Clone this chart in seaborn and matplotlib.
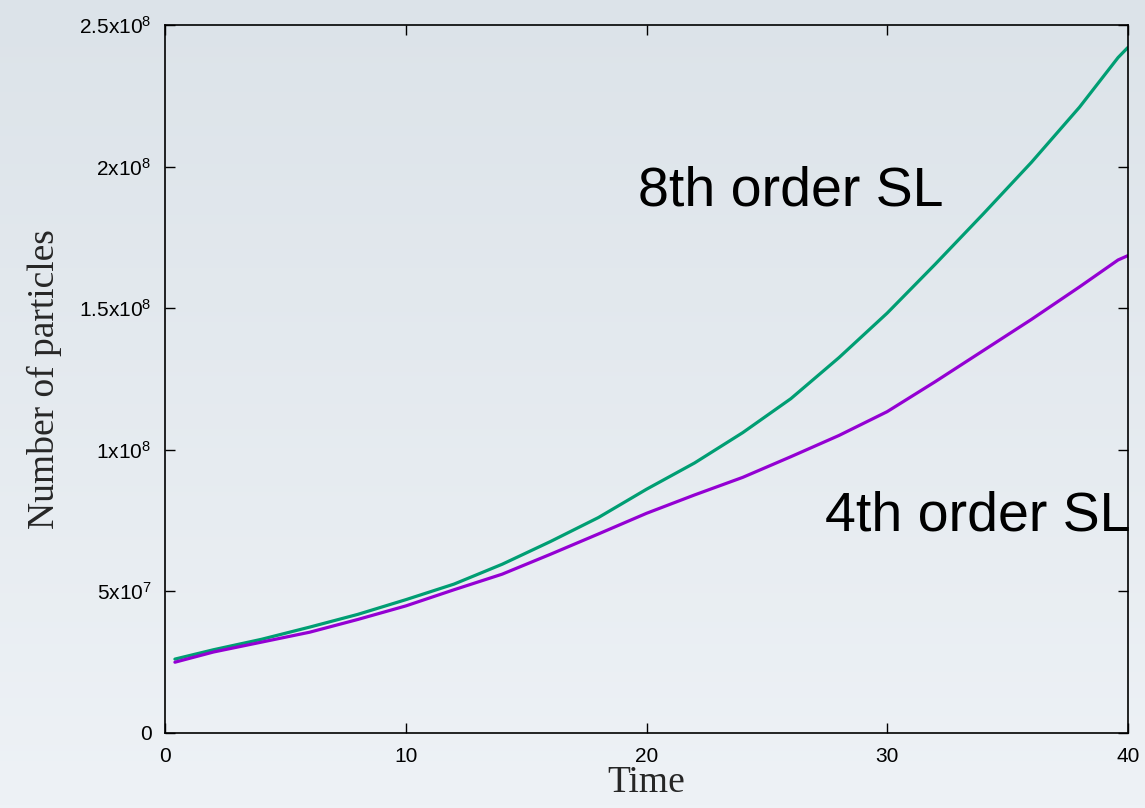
import numpy as np
import pandas as pd
import matplotlib
matplotlib.use("Agg")
import matplotlib.pyplot as plt
from matplotlib.colors import LinearSegmentedColormap
import seaborn as sns

# ---- data ----
time = [0.4, 2, 4, 6, 8, 10, 12, 14, 16, 18, 20, 22, 24, 26, 28, 30, 32, 34, 36, 38, 39.6, 40]
particles_8th = [2.60e7, 2.93e7, 3.30e7, 3.73e7, 4.18e7, 4.70e7, 5.25e7, 5.95e7, 6.75e7, 7.60e7,
                 8.60e7, 9.53e7, 10.60e7, 11.80e7, 13.25e7, 14.82e7, 16.55e7, 18.33e7, 20.15e7,
                 22.10e7, 23.85e7, 24.20e7]
particles_4th = [2.49e7, 2.85e7, 3.20e7, 3.55e7, 4.00e7, 4.48e7, 5.05e7, 5.60e7, 6.30e7, 7.02e7,
                 7.75e7, 8.40e7, 9.02e7, 9.75e7, 10.50e7, 11.34e7, 12.40e7, 13.50e7, 14.60e7,
                 15.75e7, 16.70e7, 16.85e7]
series_names = ["8th order SL", "4th order SL"]
x_ticks = [0, 10, 20, 30, 40]
y_ticks = [0, 5e7, 1e8, 1.5e8, 2e8, 2.5e8]
y_tick_labels = ["0", "5x10$^{7}$", "1x10$^{8}$", "1.5x10$^{8}$", "2x10$^{8}$", "2.5x10$^{8}$"]

df = pd.DataFrame({
    "Time": time * 2,
    "Particles": particles_8th + particles_4th,
    "Series": [series_names[0]] * len(time) + [series_names[1]] * len(time),
})

sns.set_theme(style="ticks")
plt.rcParams["font.family"] = ["Liberation Sans", "DejaVu Sans"]
plt.rcParams["mathtext.fontset"] = "custom"
plt.rcParams["mathtext.rm"] = "Liberation Sans"
plt.rcParams["mathtext.it"] = "Liberation Sans:italic"
plt.rcParams["mathtext.bf"] = "Liberation Sans:bold"

fig = plt.figure(figsize=(11.45, 8.08), dpi=100)

# soft background gradient
bg = fig.add_axes([0, 0, 1, 1], zorder=-10)
grad = np.linspace(0, 1, 256).reshape(-1, 1)
cmap = LinearSegmentedColormap.from_list("bg", ["#dce3e9", "#eef2f6"])
bg.imshow(grad, aspect="auto", cmap=cmap, extent=[0, 1, 0, 1], origin="upper")
bg.axis("off")

ax = fig.add_axes([165.3 / 1145, 1 - 732.7 / 808, (1127.7 - 165.3) / 1145, (732.7 - 25) / 808])
ax.set_facecolor("none")

sns.lineplot(data=df, x="Time", y="Particles", hue="Series",
             palette={series_names[0]: "#009e73", series_names[1]: "#9400d3"},
             linewidth=2.3, legend=False, ax=ax)

ax.set_xlim(0, 40)
ax.set_ylim(0, 2.5e8)
ax.set_xticks(x_ticks)
ax.set_xticklabels([str(t) for t in x_ticks])
ax.set_yticks(y_ticks)
ax.set_yticklabels(y_tick_labels)

ax.tick_params(axis="both", direction="in", length=7, width=1.0, labelsize=15,
               top=True, right=True, colors="black", pad=10)
for s in ax.spines.values():
    s.set_visible(True)
    s.set_linewidth(1.2)
    s.set_color("black")

ax.set_xlabel("Time", family=["Liberation Serif"], fontsize=27, labelpad=0)
ax.set_ylabel("Number of particles", family=["Liberation Serif"], fontsize=27, labelpad=12)

ax.text(19.65, 1.864e8, series_names[0], fontsize=40, ha="left", va="baseline", color="black")
ax.text(27.42, 0.716e8, series_names[1], fontsize=40, ha="left", va="baseline", color="black",
        clip_on=False)

fig.savefig("out.png", dpi=100)
